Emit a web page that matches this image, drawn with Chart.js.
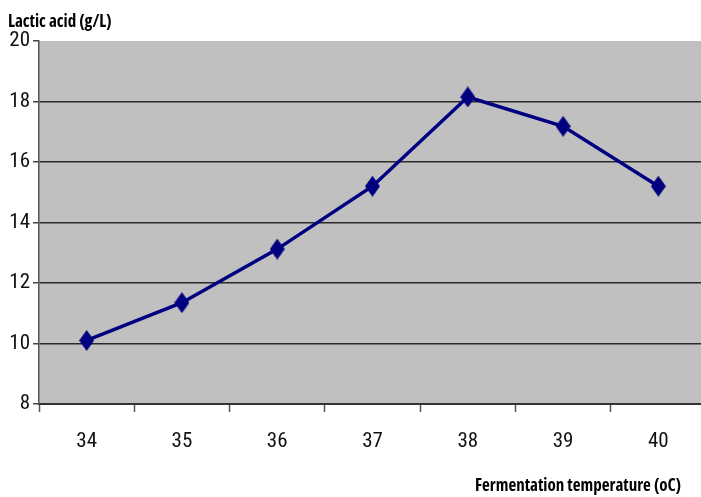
<!DOCTYPE html>
<html>
<head>
<meta charset="utf-8">
<script src="https://cdn.jsdelivr.net/npm/chart.js@4/dist/chart.umd.min.js"></script>
<style>
  html, body { margin: 0; padding: 0; background: #fff; overflow: hidden; }
</style>
</head>
<body>
<canvas id="c" width="708" height="497"></canvas>
<script>
// Fermentation temperature (°C) vs lactic acid produced (g/L)
const temperatures = ['34', '35', '36', '37', '38', '39', '40'];
const lacticAcid = [10.1, 11.35, 13.12, 15.2, 18.15, 17.18, 15.2];
const yTicks = [8, 10, 12, 14, 16, 18, 20];

const yTitle = 'Lactic acid (g/L)';
const xTitle = 'Fermentation temperature (oC)';

const navy = '#000080';
const tickFont = { family: "Roboto, 'Liberation Sans', sans-serif", size: 21, weight: '400 condensed' };
const titleFont = "bold condensed 17px 'Open Sans', 'Liberation Sans', sans-serif";

// Tall diamond marker
function makeDiamond(w, h, color) {
  const c = document.createElement('canvas');
  c.width = w; c.height = h;
  const g = c.getContext('2d');
  g.fillStyle = color;
  g.beginPath();
  g.moveTo(w / 2, 0);
  g.lineTo(w, h / 2);
  g.lineTo(w / 2, h);
  g.lineTo(0, h / 2);
  g.closePath();
  g.fill();
  return c;
}
const diamond = makeDiamond(15, 21, navy);

// Grey plot background and the two axis titles
const decor = {
  id: 'decor',
  beforeDraw(chart) {
    const { ctx, chartArea: a } = chart;
    ctx.save();
    ctx.fillStyle = '#c0c0c0';
    ctx.fillRect(a.left, a.top, a.right - a.left, a.bottom - a.top);
    ctx.restore();
  },
  afterDraw(chart) {
    const { ctx } = chart;
    ctx.save();
    ctx.fillStyle = '#000';
    ctx.font = titleFont;
    ctx.textBaseline = 'alphabetic';
    ctx.textAlign = 'left';
    ctx.fillText(yTitle, 8, 27);
    ctx.textAlign = 'right';
    ctx.fillText(xTitle, 681, 491);
    ctx.restore();
  }
};

new Chart(document.getElementById('c'), {
  type: 'line',
  data: {
    labels: temperatures,
    datasets: [{
      data: lacticAcid,
      borderColor: navy,
      backgroundColor: navy,
      borderWidth: 3.5,
      pointStyle: diamond,
      pointRadius: 8,
      pointHoverRadius: 8,
      tension: 0
    }]
  },
  options: {
    responsive: false,
    animation: false,
    events: [],
    layout: { autoPadding: false, padding: { top: 41, left: 0, right: 2, bottom: 0 } },
    plugins: { legend: { display: false }, tooltip: { enabled: false } },
    scales: {
      x: {
        type: 'category',
        offset: true,
        afterFit(s) { s.height = 93; s.paddingLeft = 0; s.paddingRight = 0; },
        grid: {
          offset: true,
          drawOnChartArea: false,
          drawTicks: true,
          tickLength: 8,
          tickColor: '#555',
          tickWidth: 1.5
        },
        border: { display: true, color: '#333', width: 2 },
        ticks: { color: '#111', font: tickFont, padding: 17, maxRotation: 0 }
      },
      y: {
        min: 8,
        max: 20,
        afterFit(s) { s.width = 39; },
        afterBuildTicks(s) { s.ticks = yTicks.map(v => ({ value: v })); },
        grid: {
          color(ctx) {
            const v = ctx.tick && ctx.tick.value;
            return (v === 20 || v === 8) ? 'rgba(0,0,0,0)' : '#2a2a2a';
          },
          lineWidth: 1.5,
          drawTicks: true,
          tickLength: 6,
          tickColor: '#444',
          tickWidth: 1.5
        },
        border: { display: true, color: '#555', width: 1.5 },
        ticks: { color: '#111', font: tickFont, padding: 3 }
      }
    }
  },
  plugins: [decor]
});
</script>
</body>
</html>
